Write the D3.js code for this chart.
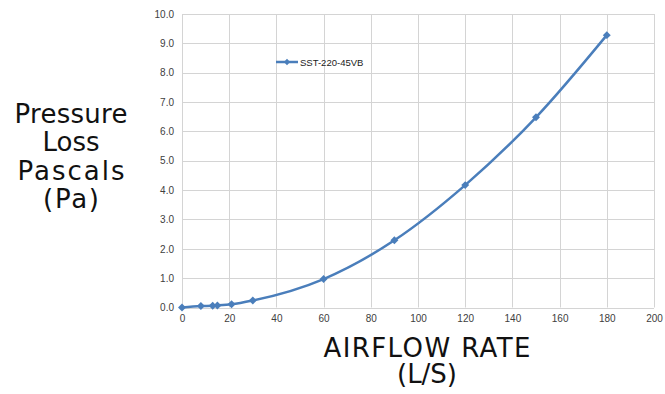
<!DOCTYPE html>
<html>
<head>
<meta charset="utf-8">
<script src="https://cdn.jsdelivr.net/npm/d3@7"></script>
<style>
  body { margin: 0; background: #fff; }
  #chart { width: 665px; height: 394px; }
  .tick text { font-family: "Liberation Sans", Arial, sans-serif; font-size: 10px; fill: #404040; }
  .bigLabel { font-family: "DejaVu Sans", sans-serif; font-size: 26px; fill: #111; }
</style>
</head>
<body>
<div id="chart"></div>
<script>
// data
const airflow = [0, 8, 13, 15, 21, 30, 60, 90, 120, 150, 180];
const pressure = [0, 0.05, 0.06, 0.07, 0.11, 0.24, 0.97, 2.29, 4.17, 6.48, 9.28];
const seriesName = "SST-220-45VB";
const xTicks = [0, 20, 40, 60, 80, 100, 120, 140, 160, 180, 200];
const yTicks = [0, 1, 2, 3, 4, 5, 6, 7, 8, 9, 10];
const yTitle = ["Pressure", "Loss", "Pascals", "(Pa)"];
const xTitle = ["AIRFLOW RATE", "(L/S)"];
// widths of the title lines as seen in the picture
const yTitleWidth = [113, 57, 107, 56];
const xTitleWidth = [207, 60];

const width = 665, height = 394;
const margin = {top: 14, left: 182, right: 11, bottom: 86};

const svg = d3.select("#chart")
  .append("svg")
  .attr("width", width)
  .attr("height", height);

const xScale = d3.scaleLinear()
  .domain([0, 200])
  .range([margin.left, width - margin.right]);

const yScale = d3.scaleLinear()
  .domain([0, 10])
  .range([height - margin.bottom - 0.5, margin.top]);

// gridlines
svg.append("g")
  .selectAll("line")
  .data(yTicks)
  .enter().append("line")
    .attr("x1", margin.left)
    .attr("x2", width - margin.right)
    .attr("y1", d => Math.round(yScale(d)) + 0.5)
    .attr("y2", d => Math.round(yScale(d)) + 0.5)
    .attr("stroke", "#d4d4d4");

svg.append("g")
  .selectAll("line")
  .data(xTicks)
  .enter().append("line")
    .attr("x1", d => Math.round(xScale(d)) + 0.5)
    .attr("x2", d => Math.round(xScale(d)) + 0.5)
    .attr("y1", yScale(10))
    .attr("y2", yScale(0))
    .attr("stroke", "#d4d4d4");

// axes (labels only)
const xAxis = svg.append("g")
  .attr("transform", `translate(0,${yScale(0) + 4})`)
  .call(d3.axisBottom(xScale).tickValues(xTicks).tickSize(0).tickPadding(3));
xAxis.select(".domain").remove();

const yAxis = svg.append("g")
  .attr("transform", `translate(${margin.left - 7},0)`)
  .call(d3.axisLeft(yScale).tickValues(yTicks).tickSize(0).tickPadding(1).tickFormat(d3.format(".1f")));
yAxis.select(".domain").remove();

// line
const points = airflow.map((x, i) => ({x: x, y: pressure[i]}));
const blue = "#4a7ebb";

const line = d3.line()
  .x(d => xScale(d.x))
  .y(d => yScale(d.y))
  .curve(d3.curveMonotoneX);

svg.append("path")
  .datum(points)
  .attr("d", line)
  .style("fill", "none")
  .style("stroke", blue)
  .style("stroke-width", 2.5);

const diamond = d3.symbol().type(d3.symbolDiamond2).size(40);

svg.append("g")
  .selectAll("path")
  .data(points)
  .enter().append("path")
    .attr("d", diamond)
    .attr("transform", d => `translate(${xScale(d.x)},${yScale(d.y)})`)
    .attr("fill", blue);

// legend
const lg = svg.append("g").attr("transform", "translate(276,62)");
lg.append("line")
  .attr("x1", 0).attr("x2", 22)
  .attr("stroke", blue).attr("stroke-width", 2.5);
lg.append("path")
  .attr("d", d3.symbol().type(d3.symbolDiamond2).size(25))
  .attr("transform", "translate(11,0)")
  .attr("fill", blue);
lg.append("text")
  .attr("x", 24)
  .attr("y", 3.5)
  .style("font-family", "Liberation Sans, Arial, sans-serif")
  .style("font-size", "9.5px")
  .style("fill", "#222")
  .text(seriesName);

// axis titles
svg.append("g")
  .selectAll("text")
  .data(yTitle)
  .enter().append("text")
    .attr("class", "bigLabel")
    .attr("text-anchor", "middle")
    .attr("x", 71)
    .attr("y", (d, i) => 123 + i * 28.3)
    .attr("textLength", (d, i) => yTitleWidth[i])
    .attr("lengthAdjust", "spacing")
    .text(d => d);

svg.append("g")
  .selectAll("text")
  .data(xTitle)
  .enter().append("text")
    .attr("class", "bigLabel")
    .attr("text-anchor", "middle")
    .attr("x", 427)
    .attr("y", (d, i) => 357 + i * 26)
    .attr("textLength", (d, i) => xTitleWidth[i])
    .attr("lengthAdjust", "spacing")
    .text(d => d);
</script>
</body>
</html>
